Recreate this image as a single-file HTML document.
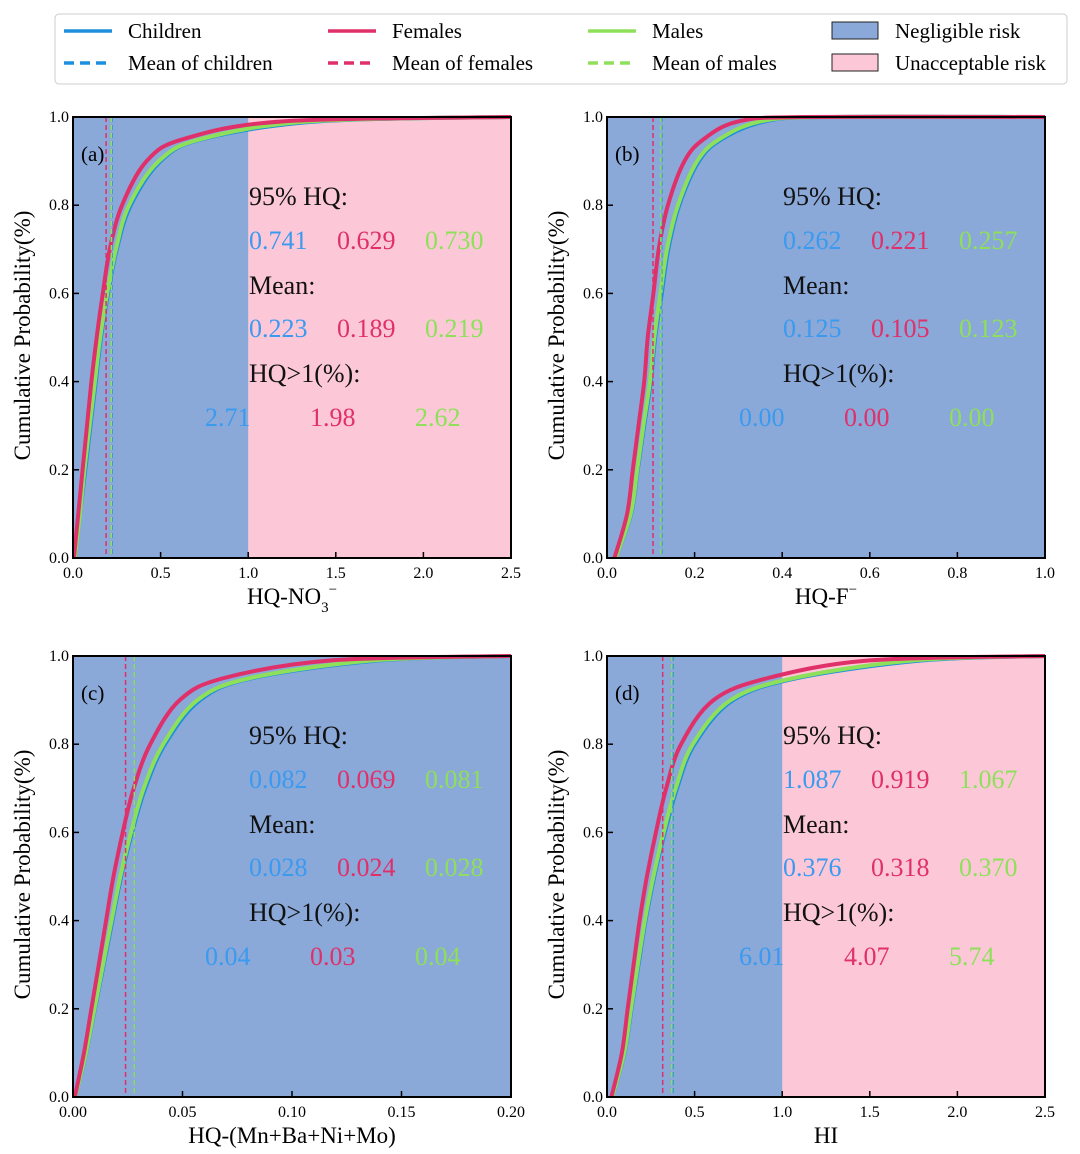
<!DOCTYPE html>
<html><head><meta charset="utf-8"><style>
body{margin:0;background:#fff}
svg{display:block;font-family:"Liberation Serif",serif}
</style></head><body>
<svg id="chart" width="1080" height="1154" viewBox="0 0 1080 1154">
<g>
<rect x="55" y="14" width="1012" height="70" rx="4" fill="#fff" stroke="#ccc"/>
<line x1="64" y1="31" x2="112" y2="31" stroke="#1e8fdc" stroke-width="3.5"/><text x="128" y="38" font-size="21">Children</text>
<line x1="64" y1="63" x2="112" y2="63" stroke="#1e8fdc" stroke-width="3.5" stroke-dasharray="10,6"/><text x="128" y="70" font-size="21">Mean of children</text>
<line x1="328" y1="31" x2="376" y2="31" stroke="#e0306a" stroke-width="3.5"/><text x="392" y="38" font-size="21">Females</text>
<line x1="328" y1="63" x2="376" y2="63" stroke="#e0306a" stroke-width="3.5" stroke-dasharray="10,6"/><text x="392" y="70" font-size="21">Mean of females</text>
<line x1="588" y1="31" x2="636" y2="31" stroke="#8ee05a" stroke-width="3.5"/><text x="652" y="38" font-size="21">Males</text>
<line x1="588" y1="63" x2="636" y2="63" stroke="#8ee05a" stroke-width="3.5" stroke-dasharray="10,6"/><text x="652" y="70" font-size="21">Mean of males</text>
<rect x="832" y="22" width="46" height="17" fill="#8aa8d8" stroke="#222"/><text x="895" y="38" font-size="21">Negligible risk</text>
<rect x="832" y="54" width="46" height="17" fill="#fcc8d8" stroke="#222"/><text x="895" y="70" font-size="21">Unacceptable risk</text>
</g>
</svg>
<script>
const probs=[0,0.1,0.2,0.3,0.4,0.5,0.6,0.7,0.8,0.9,0.95,0.99,1.0];
const aChildren=[0.01,0.04,0.07,0.10,0.13,0.16,0.20,0.25,0.33,0.50,0.74,1.4,2.5];
const aFemales=[0.005,0.03,0.055,0.08,0.105,0.135,0.17,0.21,0.28,0.42,0.63,1.2,2.5];
const aMales=[0.01,0.04,0.065,0.095,0.125,0.155,0.195,0.245,0.32,0.49,0.73,1.35,2.5];
const bChildren=[0.02,0.055,0.07,0.085,0.10,0.11,0.125,0.14,0.165,0.21,0.262,0.36,0.5];
const bFemales=[0.017,0.046,0.059,0.072,0.085,0.093,0.106,0.118,0.139,0.177,0.221,0.30,0.45];
const bMales=[0.02,0.054,0.069,0.083,0.098,0.108,0.122,0.137,0.162,0.206,0.257,0.35,0.5];
const cChildren=[0.001,0.006,0.01,0.014,0.018,0.022,0.027,0.033,0.042,0.058,0.082,0.14,0.2];
const cFemales=[0.0008,0.005,0.0084,0.0118,0.0151,0.0185,0.0227,0.0277,0.0353,0.0487,0.069,0.118,0.2];
const cMales=[0.001,0.0059,0.0098,0.0137,0.0176,0.0216,0.0265,0.0323,0.0412,0.0568,0.081,0.137,0.2];
const dChildren=[0.03,0.1,0.14,0.18,0.22,0.27,0.33,0.40,0.50,0.72,1.087,1.8,2.5];
const dFemales=[0.025,0.085,0.118,0.152,0.186,0.228,0.279,0.338,0.423,0.608,0.919,1.5,2.5];
const dMales=[0.03,0.098,0.137,0.176,0.216,0.265,0.323,0.392,0.49,0.706,1.067,1.75,2.5];
const means={a:[0.223,0.189,0.219],b:[0.125,0.105,0.123],c:[0.028,0.024,0.028],d:[0.376,0.318,0.370]};
const hq95={a:["0.741","0.629","0.730"],b:["0.262","0.221","0.257"],c:["0.082","0.069","0.081"],d:["1.087","0.919","1.067"]};
const meanLabels={a:["0.223","0.189","0.219"],b:["0.125","0.105","0.123"],c:["0.028","0.024","0.028"],d:["0.376","0.318","0.370"]};
const over1={a:["2.71","1.98","2.62"],b:["0.00","0.00","0.00"],c:["0.04","0.03","0.04"],d:["6.01","4.07","5.74"]};
const xTicks={a:["0.0","0.5","1.0","1.5","2.0","2.5"],b:["0.0","0.2","0.4","0.6","0.8","1.0"],c:["0.00","0.05","0.10","0.15","0.20"],d:["0.0","0.5","1.0","1.5","2.0","2.5"]};
const yTicks=["0.0","0.2","0.4","0.6","0.8","1.0"];
const NS="http://www.w3.org/2000/svg";
const svg=document.getElementById('chart');
const cols=["#1e8fdc","#e0306a","#8ee05a"];
const tcols=["#3a9af0","#e0306a","#8ee05a"];
function mk(t,at,p){const e=document.createElementNS(NS,t);for(const k in at)e.setAttribute(k,at[k]);(p||svg).appendChild(e);return e;}
function smooth(pts){
  let d="M"+pts[0][0].toFixed(1)+","+pts[0][1].toFixed(1);
  for(let i=0;i<pts.length-1;i++){
    const p0=pts[Math.max(0,i-1)],p1=pts[i],p2=pts[i+1],p3=pts[Math.min(pts.length-1,i+2)];
    const c1=[p1[0]+(p2[0]-p0[0])/6,p1[1]+(p2[1]-p0[1])/6];
    const c2=[p2[0]-(p3[0]-p1[0])/6,p2[1]-(p3[1]-p1[1])/6];
    d+="C"+c1[0].toFixed(1)+","+c1[1].toFixed(1)+" "+c2[0].toFixed(1)+","+c2[1].toFixed(1)+" "+p2[0].toFixed(1)+","+p2[1].toFixed(1);
  }
  return d;
}
const panels=[
{id:"a",x:73,y:117,xmax:2.5,pink:true,series:[aChildren,aFemales,aMales],xlabel:"HQ-NO3",tx:249},
{id:"b",x:607,y:117,xmax:1.0,pink:false,series:[bChildren,bFemales,bMales],xlabel:"HQ-F",tx:783},
{id:"c",x:73,y:656,xmax:0.2,pink:false,series:[cChildren,cFemales,cMales],xlabel:"HQ-(Mn+Ba+Ni+Mo)",tx:249},
{id:"d",x:607,y:656,xmax:2.5,pink:true,series:[dChildren,dFemales,dMales],xlabel:"HI",tx:783}];
const W=438,H=441;
panels.forEach(P=>{
const g=mk('g',{});


const sx=v=>P.x+v/P.xmax*W, sy=v=>P.y+H-v*H;
const bg=mk('rect',{x:P.x,y:P.y,width:W,height:H,fill:"#8aa8d8"},g);

if(P.pink){const pr=mk('rect',{x:sx(1),y:P.y,width:P.x+W-sx(1),height:H,fill:"#fcc8d8"},g);
}
[0,2,1].forEach(i=>{const s=P.series[i];
const pts=s.map((v,k)=>[sx(v),sy(probs[k])]);
if(s[s.length-1]<P.xmax)pts.push([sx(P.xmax),sy(1)]);
const pth=mk('path',{d:smooth(pts),fill:"none",stroke:cols[i],"stroke-width":4,"stroke-linejoin":"round"},g);
});
means[P.id].forEach((m,i)=>{const l=mk('line',{x1:sx(m),x2:sx(m),y1:P.y,y2:P.y+H,stroke:cols[i],"stroke-width":1.5,"stroke-dasharray":"5,3"},g);
});
mk('rect',{x:P.x,y:P.y,width:W,height:H,fill:"none",stroke:"#000","stroke-width":2},g);
const n=xTicks[P.id].length;
xTicks[P.id].forEach((t,k)=>{const xx=P.x+k/(n-1)*W;
mk('line',{x1:xx,x2:xx,y1:P.y+H,y2:P.y+H-6,stroke:"#000","stroke-width":1.5},g);
const tt=mk('text',{x:xx,y:P.y+H+20,"font-size":16,"text-anchor":"middle"},g);tt.textContent=t;
});
yTicks.forEach((t,k)=>{const yy=sy(k/5);
mk('line',{x1:P.x,x2:P.x+6,y1:yy,y2:yy,stroke:"#000","stroke-width":1.5},g);
const tt=mk('text',{x:P.x-4,y:yy+5,"font-size":16,"text-anchor":"end"},g);tt.textContent=t;
});
const yl=mk('text',{x:0,y:0,"font-size":23,"text-anchor":"middle",transform:`translate(${P.x-43},${P.y+H/2-2}) rotate(-90)`},g);
yl.textContent="Cumulative Probability(%)";
const xl=mk('text',{x:P.x+W/2,y:P.y+H+46,"font-size":23,"text-anchor":"middle"},g);

if(P.id==="a"){xl.innerHTML='HQ-NO<tspan dy="8" font-size="15">3</tspan><tspan dy="-18" font-size="15">−</tspan>';}
else if(P.id==="b"){xl.innerHTML='HQ-F<tspan dy="-10" font-size="15">−</tspan>';}
else xl.textContent=P.xlabel;
const pl=mk('text',{x:P.x+8,y:P.y+44,"font-size":21},g);pl.textContent="("+P.id+")";

const T=(s,x,y,c,nm)=>{const e=mk('text',{x:x,y:y,"font-size":26,fill:c},g);e.textContent=s;};
T("95% HQ:",P.tx,P.y+88,"#111","hq95-heading");
hq95[P.id].forEach((s,i)=>T(s,P.tx+i*88,P.y+132,tcols[i],"hq95-value"));
T("Mean:",P.tx,P.y+177,"#111","mean-heading");
meanLabels[P.id].forEach((s,i)=>T(s,P.tx+i*88,P.y+220,tcols[i],"mean-value"));
T("HQ>1(%):",P.tx,P.y+265,"#111","hq-over-1-heading");
over1[P.id].forEach((s,i)=>T(s,P.tx-44+i*105,P.y+309,tcols[i],"hq-over-1-value"));
});
</script>
</body></html>
